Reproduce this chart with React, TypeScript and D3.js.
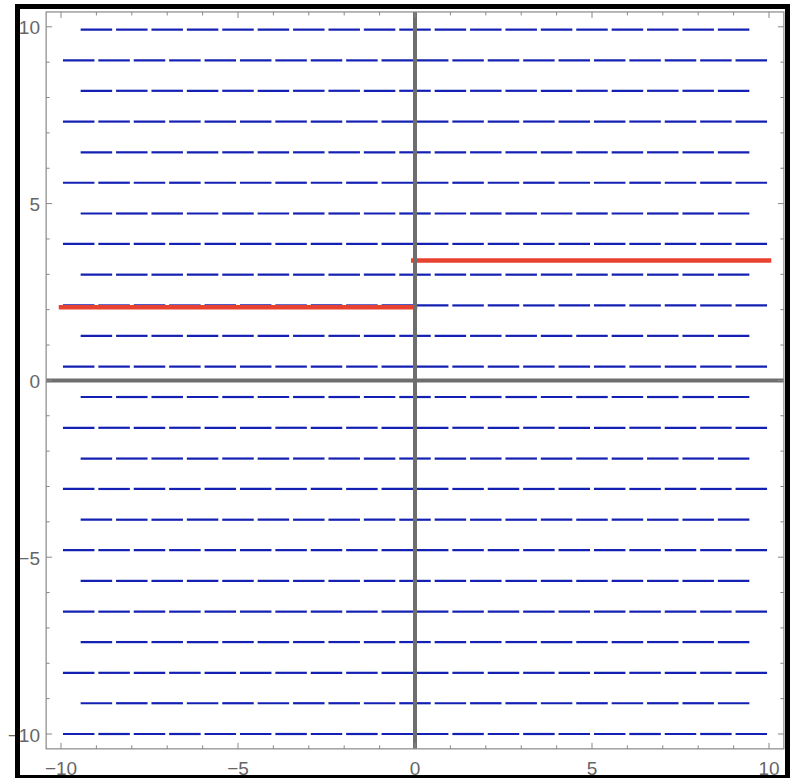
import React from "react";
import * as d3 from "d3";

// Slope field rows (y positions of the hexagonal sample rows)
const rowYs = [-10, -9.13, -8.27, -7.4, -6.54, -5.67, -4.8, -3.94, -3.07, -2.21, -1.34, -0.47, 0.39, 1.26, 2.12, 2.99, 3.86, 4.72, 5.59, 6.45, 7.32, 8.19, 9.05, 9.92];
// Column centers for long rows and offset (short) rows
const longCols = [-9.5, -8.5, -7.5, -6.5, -5.5, -4.5, -3.5, -2.5, -1.5, -0.5, 0.5, 1.5, 2.5, 3.5, 4.5, 5.5, 6.5, 7.5, 8.5, 9.5];
const shortCols = [-9, -8, -7, -6, -5, -4, -3, -2, -1, 0, 1, 2, 3, 4, 5, 6, 7, 8, 9];
// slope of the field everywhere
const fieldSlope = 0;
const segLen = 0.89;

// Red solution pieces
const solX0 = [-10, -0.05];
const solX1 = [0, 10];
const solY = [2.07, 3.39];

const majorTicks = [-10, -5, 0, 5, 10];
const minorTicks = [-10, -9, -8, -7, -6, -5, -4, -3, -2, -1, 0, 1, 2, 3, 4, 5, 6, 7, 8, 9, 10];
const tickLabels = ["\u221210", "\u22125", "0", "5", "10"];

export default function App() {
  const W = 795, H = 778;
  const x = d3.scaleLinear().domain([-10, 10]).range([61, 769]);
  const y = d3.scaleLinear().domain([-10, 10]).range([734, 26.8]);
  const fx0 = x(-10.42), fx1 = x(10.42), fy0 = y(10.42), fy1 = y(-10.42);

  const segs: { x1: number; x2: number; y1: number; y2: number; key: string }[] = [];
  rowYs.forEach((ry, i) => {
    const cols = i % 2 === 0 ? longCols : shortCols;
    cols.forEach((cx, j) => {
      const ang = Math.atan(fieldSlope);
      const dx = (segLen / 2) * Math.cos(ang);
      const dy = (segLen / 2) * Math.sin(ang);
      segs.push({ x1: x(cx - dx), x2: x(cx + dx), y1: y(ry - dy), y2: y(ry + dy), key: `${i}-${j}` });
    });
  });

  const tickColor = "#888";
  const labelColor = "#666";
  const font = "'Liberation Sans', Arial, sans-serif";

  return (
    <svg width={W} height={H} style={{ position: "absolute", left: 0, top: 0, background: "#fff" }}>
      <rect x={fx0} y={fy0} width={fx1 - fx0} height={fy1 - fy0} fill="#fff" />
      {segs.map((s) => (
        <line key={s.key} x1={s.x1} x2={s.x2} y1={s.y1} y2={s.y2} stroke="#1420b4" strokeWidth={2.2} />
      ))}
      {solY.map((v, i) => (
        <line key={"sol" + i} x1={x(solX0[i])} x2={x(solX1[i])} y1={y(v)} y2={y(v)} stroke="#e8412f" strokeWidth={4.5} strokeLinecap="square" />
      ))}
      {/* axes */}
      <line x1={x(0)} x2={x(0)} y1={fy0} y2={fy1} stroke="#6e6e6e" strokeWidth={4} />
      <line x1={fx0} x2={fx1} y1={y(0)} y2={y(0)} stroke="#6e6e6e" strokeWidth={4} />
      {/* frame */}
      <rect x={fx0} y={fy0} width={fx1 - fx0} height={fy1 - fy0} fill="none" stroke={tickColor} strokeWidth={1.2} />
      {minorTicks.map((t) => {
        const major = majorTicks.includes(t);
        const L = major ? 6 : 3.5;
        return (
          <g key={"t" + t} stroke={tickColor} strokeWidth={1}>
            <line x1={x(t)} x2={x(t)} y1={fy1} y2={fy1 - L} />
            <line x1={x(t)} x2={x(t)} y1={fy0} y2={fy0 + L} />
            <line x1={fx0} x2={fx0 + L} y1={y(t)} y2={y(t)} />
            <line x1={fx1} x2={fx1 - L} y1={y(t)} y2={y(t)} />
          </g>
        );
      })}
      {majorTicks.map((t, i) => (
        <text key={"yl" + t} x={40} y={y(t) + 1} textAnchor="end" dominantBaseline="central" fontSize={19} fill={labelColor} fontFamily={font}>
          {tickLabels[i]}
        </text>
      ))}
      {majorTicks.map((t, i) => (
        <text key={"xl" + t} x={x(t)} y={775} textAnchor="middle" fontSize={19} fill={labelColor} fontFamily={font}>
          {tickLabels[i]}
        </text>
      ))}
      {/* outer black border */}
      <rect x={17.5} y={6.5} width={770} height={771} fill="none" stroke="#000" strokeWidth={5} />
    </svg>
  );
}
